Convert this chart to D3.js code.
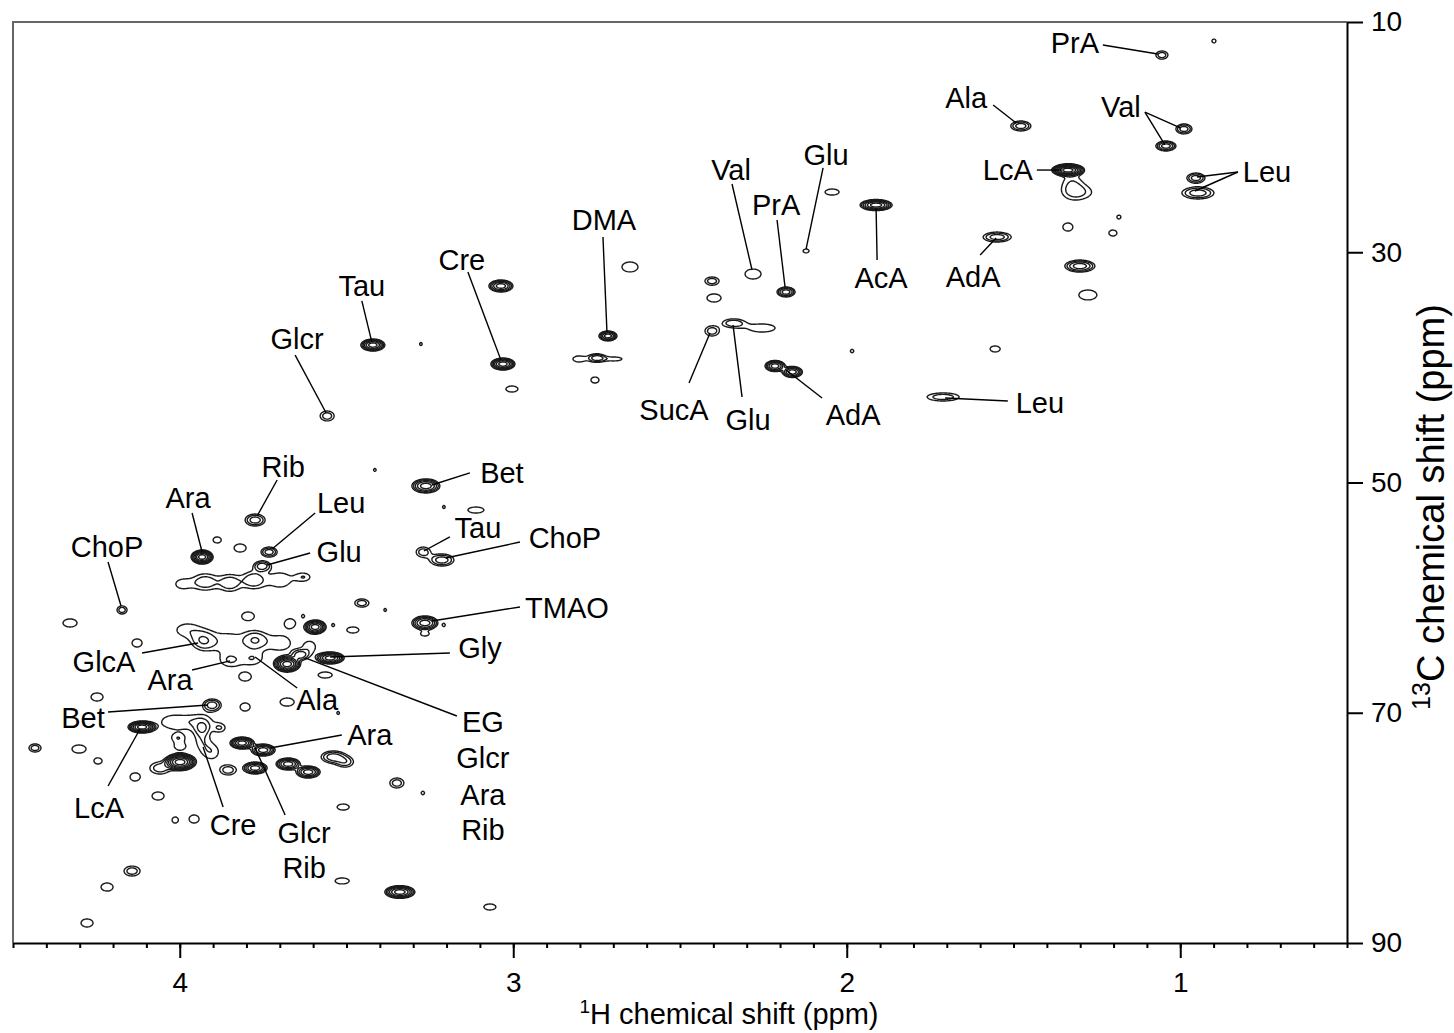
<!DOCTYPE html>
<html lang="en">
<head>
<meta charset="UTF-8">
<title>1H-13C HSQC</title>
<style>
  body { margin: 0; background: #fff; }
  text { font-family: "Liberation Sans", Arial, sans-serif; fill: #000; }
</style>
</head>
<body>
<script src="https://d3js.org/d3.v7.min.js"></script>
<script>
// axis ticks
var xTicks = [4, 3, 2, 1];
var xMinor = d3.range(5, 46).map(function(d) { return d / 10; });
var yTicks = [10, 30, 50, 70, 90];

// cross peaks: [1H ppm, 13C ppm, 1H half width, 13C half width, contour levels]
var peaks = [
  [1.055, 12.87, 0.018, 0.35, 2], [0.899, 11.65, 0.006, 0.17, 1],
  [1.478, 19.03, 0.030, 0.43, 3], [0.989, 19.29, 0.024, 0.43, 3],
  [1.043, 20.77, 0.030, 0.43, 4], [0.953, 23.55, 0.027, 0.43, 3],
  [0.947, 24.85, 0.048, 0.52, 3], [1.337, 22.86, 0.048, 0.52, 8],
  [1.325, 24.00, 0.021, 0.75, 1], [1.300, 24.80, 0.030, 0.43, 1],
  [1.184, 26.94, 0.006, 0.17, 1], [1.337, 27.81, 0.015, 0.35, 1],
  [1.202, 28.33, 0.012, 0.26, 1], [1.301, 31.20, 0.045, 0.52, 4],
  [1.277, 33.71, 0.027, 0.43, 1], [1.549, 28.68, 0.042, 0.43, 3],
  [1.555, 38.40, 0.015, 0.26, 1], [1.711, 42.57, 0.048, 0.35, 2],
  [1.984, 38.58, 0.005, 0.15, 1], [1.912, 25.90, 0.048, 0.48, 6],
  [2.044, 24.77, 0.021, 0.26, 1], [2.122, 29.89, 0.009, 0.17, 1],
  [2.281, 31.89, 0.024, 0.43, 1], [2.182, 33.45, 0.027, 0.43, 4],
  [2.404, 32.50, 0.021, 0.35, 2], [2.398, 33.97, 0.021, 0.35, 1],
  [2.650, 31.28, 0.024, 0.43, 1], [2.716, 37.27, 0.027, 0.43, 5],
  [2.803, 39.27, 0.018, 0.26, 1], [2.749, 39.18, 0.024, 0.35, 3],
  [2.698, 39.27, 0.024, 0.17, 1], [2.755, 41.10, 0.012, 0.26, 1],
  [2.404, 36.84, 0.021, 0.43, 2], [2.341, 36.15, 0.030, 0.35, 2],
  [2.254, 36.58, 0.039, 0.35, 1], [2.215, 39.88, 0.030, 0.48, 5],
  [2.163, 40.40, 0.030, 0.48, 5], [3.037, 32.93, 0.036, 0.52, 5],
  [3.421, 38.06, 0.036, 0.52, 6], [3.277, 37.97, 0.004, 0.13, 1],
  [3.031, 39.71, 0.036, 0.52, 6], [3.004, 41.88, 0.018, 0.26, 1],
  [3.558, 44.22, 0.021, 0.43, 2], [3.262, 50.30, 0.042, 0.61, 5],
  [3.415, 48.91, 0.004, 0.13, 1], [3.208, 52.13, 0.004, 0.13, 1],
  [3.112, 52.39, 0.024, 0.26, 1], [3.270, 56.04, 0.021, 0.43, 2],
  [3.214, 56.73, 0.036, 0.52, 3], [3.265, 62.20, 0.039, 0.61, 5],
  [3.265, 63.16, 0.012, 0.17, 1], [3.208, 62.38, 0.004, 0.13, 1],
  [3.774, 53.26, 0.030, 0.52, 3], [3.933, 56.47, 0.033, 0.61, 7],
  [3.888, 54.99, 0.012, 0.26, 1], [3.819, 55.69, 0.018, 0.35, 1],
  [3.732, 56.04, 0.024, 0.43, 3], [3.753, 57.25, 0.024, 0.43, 3],
  [3.993, 58.82, 0.018, 0.35, 1], [3.924, 58.64, 0.036, 0.70, 2],
  [3.849, 58.73, 0.030, 0.70, 2], [3.780, 58.47, 0.030, 0.70, 2],
  [3.699, 58.47, 0.030, 0.60, 1], [3.627, 58.21, 0.015, 0.26, 1],
  [4.173, 61.07, 0.015, 0.35, 2], [4.329, 62.20, 0.021, 0.35, 1],
  [4.128, 63.94, 0.015, 0.35, 1], [3.795, 61.60, 0.018, 0.35, 1],
  [3.669, 62.20, 0.015, 0.35, 1], [3.594, 62.55, 0.033, 0.61, 6],
  [3.481, 62.81, 0.018, 0.26, 1], [3.454, 60.47, 0.021, 0.35, 2],
  [3.630, 61.60, 0.004, 0.13, 1], [3.540, 62.38, 0.004, 0.13, 1],
  [3.384, 61.07, 0.004, 0.13, 1],
  [3.978, 62.81, 0.030, 0.50, 1], [3.930, 63.77, 0.030, 0.70, 2],
  [3.855, 63.86, 0.036, 0.70, 1], [3.774, 63.68, 0.030, 0.70, 2],
  [3.699, 63.94, 0.030, 0.60, 1],
  [3.849, 65.50, 0.021, 0.40, 1], [3.780, 65.33, 0.021, 0.40, 1],
  [3.678, 65.77, 0.040, 0.70, 7], [3.639, 64.98, 0.024, 0.43, 3],
  [3.549, 65.24, 0.042, 0.52, 6], [3.609, 64.29, 0.015, 0.43, 1],
  [3.564, 66.72, 0.021, 0.26, 1], [3.804, 66.89, 0.018, 0.35, 1],
  [3.678, 69.07, 0.021, 0.35, 1], [4.248, 68.63, 0.018, 0.35, 1],
  [3.903, 69.33, 0.027, 0.52, 3], [3.804, 69.50, 0.015, 0.35, 1],
  [3.525, 70.02, 0.004, 0.13, 1], [4.113, 71.24, 0.042, 0.52, 7],
  [4.023, 70.80, 0.030, 0.50, 1], [3.939, 70.80, 0.030, 0.50, 1],
  [3.933, 72.19, 0.015, 0.70, 1], [3.903, 73.41, 0.018, 0.52, 1],
  [3.879, 71.32, 0.012, 0.26, 1], [3.933, 71.32, 0.009, 0.26, 1],
  [4.005, 72.19, 0.015, 0.26, 1], [3.999, 72.97, 0.015, 0.26, 1],
  [4.302, 73.15, 0.021, 0.35, 1], [4.245, 74.19, 0.012, 0.26, 1],
  [4.434, 73.06, 0.018, 0.35, 2], [3.999, 74.28, 0.048, 0.75, 8],
  [4.059, 74.80, 0.030, 0.52, 2], [4.134, 75.58, 0.015, 0.35, 1],
  [4.065, 77.23, 0.018, 0.35, 1], [4.014, 79.32, 0.009, 0.26, 1],
  [3.957, 79.23, 0.015, 0.35, 1], [3.855, 74.97, 0.024, 0.43, 2],
  [3.813, 72.63, 0.036, 0.52, 6], [3.750, 73.24, 0.036, 0.52, 5],
  [3.774, 74.80, 0.036, 0.52, 5], [3.675, 74.45, 0.036, 0.52, 5],
  [3.615, 75.15, 0.036, 0.52, 5], [3.540, 73.84, 0.036, 0.52, 3],
  [3.504, 74.28, 0.024, 0.43, 2], [3.510, 78.19, 0.018, 0.26, 1],
  [3.349, 76.10, 0.021, 0.43, 2], [3.271, 76.97, 0.005, 0.15, 1],
  [4.143, 83.75, 0.024, 0.43, 2], [4.218, 85.14, 0.018, 0.35, 1],
  [4.278, 88.26, 0.018, 0.35, 1], [3.513, 84.61, 0.021, 0.26, 1],
  [3.340, 85.57, 0.045, 0.55, 6], [3.070, 86.87, 0.018, 0.26, 1]
];

// assignments: [name, 1H ppm, 13C ppm]
var labels = [
  ["PrA", 1.316, 12.69], ["Ala", 1.642, 17.47], ["Val", 1.178, 18.25],
  ["Leu", 0.740, 23.90], ["LcA", 1.517, 23.72], ["Glu", 2.062, 22.42],
  ["Val", 2.347, 23.72], ["PrA", 2.212, 26.76], ["DMA", 2.728, 28.07],
  ["AcA", 1.897, 33.10], ["AdA", 1.621, 33.02], ["SucA", 2.518, 44.57],
  ["Glu", 2.296, 45.44], ["AdA", 1.981, 45.00], ["Leu", 1.421, 43.97],
  ["Cre", 3.154, 31.54], ["Tau", 3.454, 33.80], ["Glcr", 3.648, 38.40],
  ["Bet", 3.034, 50.04], ["Tau", 3.106, 54.82], ["ChoP", 2.845, 55.69],
  ["TMAO", 2.839, 61.77], ["Gly", 3.100, 65.24],
  ["EG", 3.091, 71.67], ["Glcr", 3.091, 74.80], ["Ara", 3.091, 78.01], ["Rib", 3.091, 81.05],
  ["Ala", 3.588, 69.76], ["Ara", 3.430, 72.80], ["Cre", 3.840, 80.62],
  ["Glcr", 3.627, 81.31], ["Rib", 3.627, 84.35],
  ["Rib", 3.690, 49.52], ["Ara", 3.975, 52.21], ["Leu", 3.516, 52.65],
  ["Glu", 3.522, 56.91], ["ChoP", 4.218, 56.47], ["GlcA", 4.227, 66.46],
  ["Ara", 4.029, 68.02], ["Bet", 4.290, 71.32], ["LcA", 4.242, 79.14]
];

// leader lines: [1H from, 13C from, 1H to, 13C to]
var leaders = [
  [1.232, 12.00, 1.067, 12.78], [1.561, 17.21, 1.492, 18.77],
  [1.106, 17.82, 0.998, 19.21], [1.106, 17.82, 1.046, 20.68],
  [0.827, 23.03, 0.950, 23.46], [0.827, 23.03, 0.956, 24.68],
  [1.430, 22.86, 1.355, 22.86], [2.071, 22.68, 2.122, 29.72],
  [2.344, 24.07, 2.284, 31.54], [2.209, 27.20, 2.185, 33.02],
  [2.731, 28.68, 2.719, 36.93], [1.909, 30.67, 1.912, 26.16],
  [1.600, 30.24, 1.552, 28.76], [2.473, 41.36, 2.410, 37.01],
  [2.314, 42.57, 2.341, 36.32], [2.074, 42.66, 2.182, 40.23],
  [1.517, 42.92, 1.705, 42.66], [3.136, 31.72, 3.037, 39.36],
  [3.454, 34.23, 3.424, 37.80], [3.654, 38.93, 3.561, 43.96],
  [3.130, 49.17, 3.244, 50.22], [3.190, 54.73, 3.268, 55.95],
  [2.980, 55.17, 3.202, 56.56], [2.980, 60.81, 3.244, 62.03],
  [3.190, 64.81, 3.549, 65.16], [3.169, 70.28, 3.624, 65.24],
  [3.648, 67.85, 3.774, 65.16], [3.514, 71.93, 3.729, 73.06],
  [3.870, 78.19, 3.930, 72.97], [3.684, 78.88, 3.774, 73.06],
  [3.708, 49.78, 3.768, 52.91], [3.963, 52.65, 3.933, 56.04],
  [3.594, 52.65, 3.723, 55.78], [3.609, 56.12, 3.738, 57.17],
  [4.215, 56.91, 4.176, 60.73], [4.113, 64.81, 3.945, 63.94],
  [3.963, 66.29, 3.849, 65.50], [4.215, 69.94, 3.915, 69.33],
  [4.215, 76.36, 4.119, 71.41]
];

var width = 1454, height = 1033;
var X0 = 13, X1 = 1347, Y0 = 22, Y1 = 943;

var x = d3.scaleLinear().domain([4.5, 0.5]).range([X0, X1]);
var y = d3.scaleLinear().domain([10, 90]).range([Y0, Y1]);

var svg = d3.select('body').append('svg')
    .attr('width', width)
    .attr('height', height);

// intensity grid, one cell per pixel of the plot area
var q = 1.55, nLevels = 10;
var gw = X1 - X0, gh = Y1 - Y0;
var grid = new Float64Array(gw * gh);

peaks.forEach(function(p) {
  var amp = Math.pow(q, p[4] - 0.3),
      k = Math.sqrt(2 * Math.log(amp)),
      cx = x(p[0]) - X0, cy = y(p[1]) - Y0,
      sx = Math.abs(x(p[0] + p[2]) - x(p[0])) / k,
      sy = Math.abs(y(p[1] + p[3]) - y(p[1])) / k;
  var i0 = Math.max(0, Math.floor(cx - 4 * sx)), i1 = Math.min(gw - 1, Math.ceil(cx + 4 * sx)),
      j0 = Math.max(0, Math.floor(cy - 4 * sy)), j1 = Math.min(gh - 1, Math.ceil(cy + 4 * sy));
  for (var j = j0; j <= j1; j++) {
    var dy = (j + 0.5 - cy) / sy;
    for (var i = i0; i <= i1; i++) {
      var dx = (i + 0.5 - cx) / sx;
      grid[j * gw + i] += amp * Math.exp(-0.5 * (dx * dx + dy * dy));
    }
  }
});

var thresholds = d3.range(nLevels).map(function(k) { return Math.pow(q, k); });
var contours = d3.contours().size([gw, gh]).thresholds(thresholds)(grid);

svg.append('defs').append('clipPath').attr('id', 'plot')
  .append('rect').attr('x', 0).attr('y', 0).attr('width', gw).attr('height', gh);

svg.append('g')
    .attr('transform', 'translate(' + X0 + ',' + Y0 + ')')
    .attr('clip-path', 'url(#plot)')
  .selectAll('path')
    .data(contours)
  .enter().append('path')
    .attr('d', d3.geoPath())
    .attr('fill', 'none')
    .attr('stroke', '#1a1a1a')
    .attr('stroke-width', 1.4);

// frame (top and left)
svg.append('path')
    .attr('d', 'M' + X0 + ',' + Y1 + 'V' + Y0 + 'H' + X1)
    .attr('fill', 'none')
    .attr('stroke', '#666')
    .attr('stroke-width', 2);

// leader lines
svg.append('g').selectAll('line')
    .data(leaders)
  .enter().append('line')
    .attr('x1', function(d) { return x(d[0]); })
    .attr('y1', function(d) { return y(d[1]); })
    .attr('x2', function(d) { return x(d[2]); })
    .attr('y2', function(d) { return y(d[3]); })
    .attr('stroke', '#000')
    .attr('stroke-width', 1.4);

svg.append('g').selectAll('text')
    .data(labels)
  .enter().append('text')
    .attr('x', function(d) { return x(d[1]); })
    .attr('y', function(d) { return y(d[2]); })
    .attr('text-anchor', 'middle')
    .style('font-size', '29px')
    .text(function(d) { return d[0]; });

// axes
svg.append('g')
    .attr('transform', 'translate(0,' + Y1 + ')')
    .call(d3.axisBottom(x).tickValues(xTicks).tickSize(15).tickSizeOuter(0).tickPadding(14)
      .tickFormat(d3.format('d')));
svg.append('g')
    .attr('transform', 'translate(0,' + Y1 + ')')
    .call(d3.axisBottom(x).tickValues(xMinor).tickSize(5).tickSizeOuter(0).tickFormat(''))
    .select('.domain').remove();

svg.append('g')
    .attr('transform', 'translate(' + X1 + ',0)')
    .call(d3.axisRight(y).tickValues(yTicks).tickSize(16).tickSizeOuter(0).tickPadding(8));

svg.selectAll('.domain, .tick line')
    .attr('stroke', '#000')
    .attr('stroke-width', 2);
svg.selectAll('.tick text')
    .style('font-family', '"Liberation Sans", Arial, sans-serif')
    .style('font-size', '28px')
    .attr('fill', '#000');

// axis titles
var xt = svg.append('text')
    .attr('x', 729)
    .attr('y', 1024)
    .attr('text-anchor', 'middle')
    .style('font-size', '29px');
xt.append('tspan').attr('dy', -11).style('font-size', '19px').text('1');
xt.append('tspan').attr('dy', 11).text('H chemical shift (ppm)');

var yt = svg.append('text')
    .attr('transform', 'translate(1444,507) rotate(-90)')
    .attr('text-anchor', 'middle')
    .style('font-size', '38px');
yt.append('tspan').attr('dy', -14).style('font-size', '25px').text('13');
yt.append('tspan').attr('dy', 14).text('C chemical shift (ppm)');
</script>
</body>
</html>
